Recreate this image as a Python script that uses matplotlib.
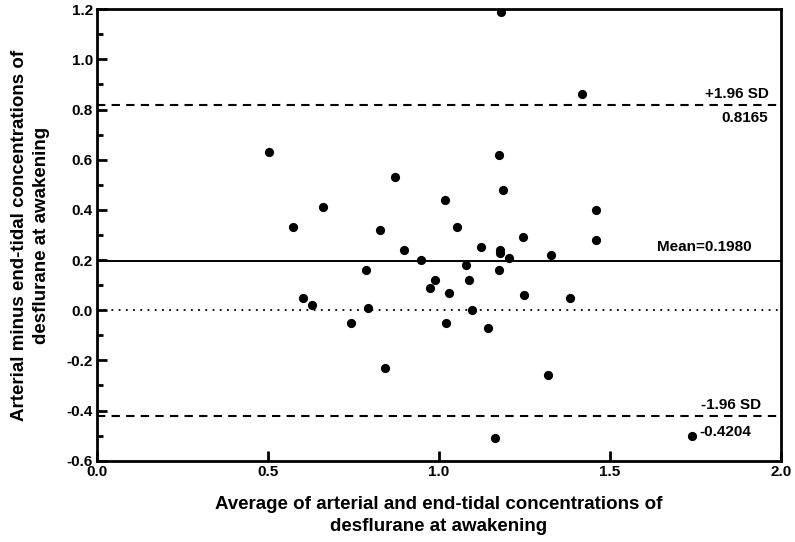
import numpy as np
import matplotlib
matplotlib.use('Agg')
import matplotlib.pyplot as plt

plt.rcParams['font.family'] = ['Liberation Sans', 'DejaVu Sans']
plt.rcParams['font.weight'] = 'bold'

# average of arterial and end-tidal concentrations
avg = [0.502, 0.572, 0.603, 0.628, 0.662, 0.744, 0.788, 0.793, 0.827, 0.843,
       0.872, 0.898, 0.947, 0.973, 0.988, 1.018, 1.022, 1.029, 1.054, 1.080,
       1.088, 1.097, 1.123, 1.143, 1.164, 1.177, 1.177, 1.178, 1.178, 1.183,
       1.189, 1.204, 1.245, 1.249, 1.319, 1.329, 1.384, 1.419, 1.459, 1.459,
       1.740]
# arterial minus end-tidal
diff = [0.63, 0.33, 0.05, 0.02, 0.41, -0.05, 0.16, 0.01, 0.32, -0.23,
        0.53, 0.24, 0.20, 0.09, 0.12, 0.44, -0.05, 0.07, 0.33, 0.18,
        0.12, 0.00, 0.25, -0.07, -0.51, 0.62, 0.16, 0.24, 0.23, 1.19,
        0.48, 0.21, 0.29, 0.06, -0.26, 0.22, 0.05, 0.86, 0.40, 0.28,
        -0.50]

mean_diff = 0.1980
upper = 0.8165
lower = -0.4204

fig = plt.figure(figsize=(7.95, 5.42), dpi=100)
ax = fig.add_axes([0.122, 0.150, 0.860, 0.833])

ax.scatter(avg, diff, s=44, color='black', zorder=3, linewidths=0)

ax.axhline(mean_diff, color='black', lw=1.4)
ax.axhline(upper, color='black', lw=1.5, ls=(0, (4, 3)))
ax.axhline(lower, color='black', lw=1.5, ls=(0, (4, 3)))
ax.axhline(0, color='black', lw=1.3, ls=(0, (1, 3)))

fs = 11
ax.text(1.965, 0.86, '+1.96 SD', ha='right', va='center', fontsize=fs, fontweight='bold')
ax.text(1.962, 0.765, '0.8165', ha='right', va='center', fontsize=fs, fontweight='bold')
ax.text(1.915, 0.251, 'Mean=0.1980', ha='right', va='center', fontsize=fs, fontweight='bold')
ax.text(1.944, -0.379, '-1.96 SD', ha='right', va='center', fontsize=fs, fontweight='bold')
ax.text(1.763, -0.485, '-0.4204', ha='left', va='center', fontsize=fs, fontweight='bold')

ax.set_xlim(0, 2.0)
ax.set_ylim(-0.6, 1.2)
ax.set_xticks([0, 0.5, 1.0, 1.5, 2.0])
ax.set_xticklabels(['0.0', '0.5', '1.0', '1.5', '2.0'])
yt = np.round(np.arange(-0.6, 1.21, 0.2), 1)
ax.set_yticks(yt)
ax.set_yticklabels(['%.1f' % v for v in yt])
ax.set_yticks(np.arange(-0.5, 1.2, 0.2), minor=True)

for s in ax.spines.values():
    s.set_linewidth(2)
ax.tick_params(which='major', direction='in', length=7, width=2, labelsize=11, pad=3)
ax.tick_params(which='minor', direction='in', length=4, width=2)
for lab in ax.get_xticklabels() + ax.get_yticklabels():
    lab.set_fontweight('bold')

ax.set_xlabel('Average of arterial and end-tidal concentrations of\ndesflurane at awakening',
              fontsize=13.5, fontweight='bold', labelpad=12, linespacing=1.4)
ax.set_ylabel('Arterial minus end-tidal concentrations of\ndesflurane at awakening',
              fontsize=13.5, fontweight='bold', labelpad=12, linespacing=1.35)

fig.savefig('out.png', dpi=100)
